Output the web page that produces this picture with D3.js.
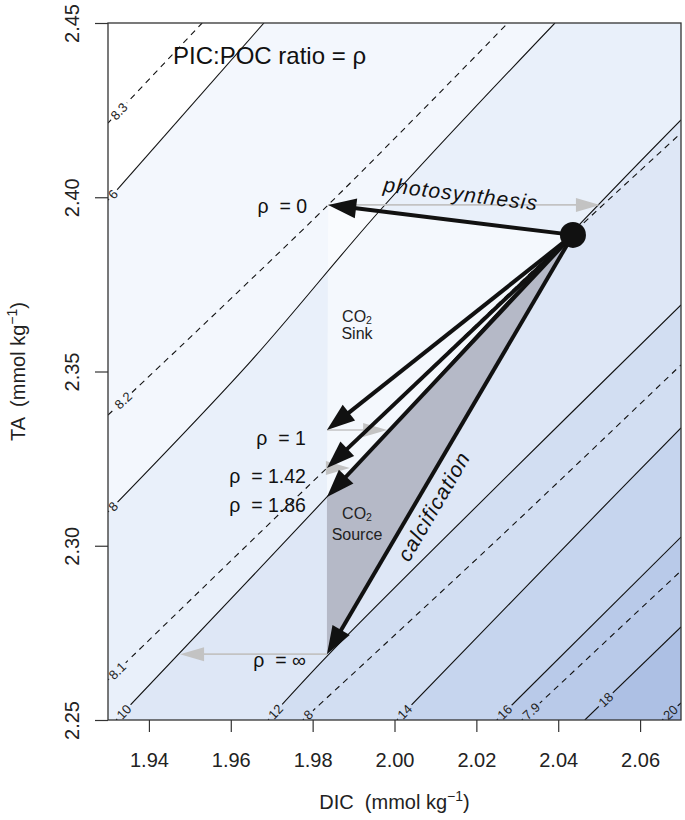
<!DOCTYPE html>
<html>
<head>
<meta charset="utf-8">
<script src="https://cdn.jsdelivr.net/npm/d3@7"></script>
<style>
  body { margin: 0; background: #fff; }
  text { font-family: "Liberation Sans", Arial, Helvetica, sans-serif; }
</style>
</head>
<body>
<div id="chart"></div>
<script>
// ---- data ----
let xTicks = [1.94, 1.96, 1.98, 2.00, 2.02, 2.04, 2.06];
let yTicks = [2.25, 2.30, 2.35, 2.40, 2.45];

// solid contours, [DIC, TA] points
let solidLevels = ["6", "8", "10", "12", "14", "16", "18", "20"];
let solidLines = [
  [[1.9300, 2.3992], [1.9681, 2.4500]],
  [[1.9300, 2.3097], [1.9647, 2.3527], [1.9972, 2.3972], [2.0392, 2.4500]],
  [[1.9320, 2.2500], [1.9835, 2.3140], [2.0458, 2.3929], [2.0700, 2.4222]],
  [[1.9691, 2.2500], [1.9840, 2.2689], [2.0216, 2.3131], [2.0700, 2.3691]],
  [[2.0006, 2.2500], [2.0527, 2.3131], [2.0700, 2.3338]],
  [[2.0250, 2.2500], [2.0700, 2.3025]],
  [[2.0465, 2.2500], [2.0700, 2.2767]],
  [[2.0654, 2.2500], [2.0700, 2.2549]]
];

// dashed contours (pH)
let dashedLevels = ["8.3", "8.2", "8.1", "8", "7.9"];
let dashedLines = [
  [[1.9300, 2.4213], [1.9530, 2.4500]],
  [[1.9300, 2.3375], [1.9838, 2.3978], [2.0277, 2.4500]],
  [[1.9300, 2.2615], [1.9835, 2.3223], [2.0431, 2.3892], [2.0700, 2.4184]],
  [[1.9776, 2.2500], [2.0258, 2.3025], [2.0700, 2.3519]],
  [[2.0311, 2.2500], [2.0700, 2.2928]]
];

// initial point and PIC:POC arrows
let startDIC = 2.0436, startTA = 2.3892;
let rhoNames = ["0", "1", "1.42", "1.86", "\u221e"];
let rhoDIC = [1.9838, 1.9835, 1.9835, 1.9835, 1.9835];
let rhoTA = [2.3978, 2.3332, 2.3223, 2.3140, 2.2689];

// grey arrows back to the initial contour
let greyFrom = [0, 1, 2, 4];
let greyToDIC = [2.0502, 1.9982, 1.9891, 1.9476];

// ---- layout ----
let W = 685, H = 820;
let mLeft = 108, mRight = 681, mTop = 23, mBottom = 720;

let x = d3.scaleLinear().domain([1.93, 2.07]).range([mLeft, mRight]);
let y = d3.scaleLinear().domain([2.25, 2.45]).range([mBottom, mTop]);

let bandColors = ["#ffffff", "#f3f7fd", "#e9f0fa", "#dee7f6", "#d2def2", "#c6d5ee", "#b9cae9", "#adc0e4", "#a0b5df"];

let svg = d3.select("#chart").append("svg")
  .attr("width", W).attr("height", H)
  .style("background", "#fff");

let defs = svg.append("defs");
defs.append("clipPath").attr("id", "plotclip")
  .append("rect").attr("x", mLeft).attr("y", mTop)
  .attr("width", mRight - mLeft).attr("height", mBottom - mTop);

let mask = defs.append("mask").attr("id", "lblmask")
  .attr("maskUnits", "userSpaceOnUse")
  .attr("x", 0).attr("y", 0).attr("width", W).attr("height", H);
mask.append("rect").attr("width", W).attr("height", H).attr("fill", "white");

let plot = svg.append("g").attr("clip-path", "url(#plotclip)");

let line = d3.line().x(d => x(d[0])).y(d => y(d[1])).curve(d3.curveCatmullRom.alpha(0.5));

// background bands
plot.append("rect").attr("x", mLeft).attr("y", mTop)
  .attr("width", mRight - mLeft).attr("height", mBottom - mTop)
  .attr("fill", bandColors[0]);

solidLines.forEach((pts, i) => {
  let first = pts[0], last = pts[pts.length - 1];
  let d = line(pts) +
    "L" + x(2.2) + "," + y(last[1]) +
    "L" + x(2.2) + "," + y(2.1) +
    "L" + x(first[0]) + "," + y(2.1) + "Z";
  plot.append("path").attr("d", d).attr("fill", bandColors[i + 1]);
});

// CO2 sink (light) and source (grey) areas
let px = (i) => [x(rhoDIC[i]), y(rhoTA[i])];
let p0 = [x(startDIC), y(startTA)];
plot.append("path")
  .attr("d", "M" + px(0) + "L" + p0 + "L" + px(3) + "Z")
  .attr("fill", "#ffffff").attr("fill-opacity", 0.5);
plot.append("path")
  .attr("d", "M" + px(3) + "L" + p0 + "L" + px(4) + "Z")
  .attr("fill", "#b5b9c7");

// contour lines
let allLines = solidLines.map((pts, i) => ({level: solidLevels[i], pts: pts, dash: false}))
  .concat(dashedLines.map((pts, i) => ({level: dashedLevels[i], pts: pts, dash: true})));

let lineG = plot.append("g").attr("mask", "url(#lblmask)");
lineG.selectAll("path.cl").data(allLines).enter().append("path")
  .attr("class", "cl")
  .attr("d", d => line(d.pts))
  .attr("fill", "none")
  .attr("stroke", "#111")
  .attr("stroke-width", 1.1)
  .attr("stroke-dasharray", d => d.dash ? "6,5" : null);

// contour labels at the start of each line
let extraShift = {"8.2": 8, "18": 18, "8.3": 3};
let lblG = svg.append("g");
allLines.forEach(d => {
  let a = [x(d.pts[0][0]), y(d.pts[0][1])];
  let b = [x(d.pts[1][0]), y(d.pts[1][1])];
  let len = Math.hypot(b[0] - a[0], b[1] - a[1]);
  let ux = (b[0] - a[0]) / len, uy = (b[1] - a[1]) / len;
  let ang = Math.atan2(uy, ux) * 180 / Math.PI;
  let t = lblG.append("text")
    .attr("font-size", 13)
    .attr("fill", "#222")
    .attr("text-anchor", "middle")
    .attr("dy", "0.35em")
    .text(d.level);
  let w = t.node().getComputedTextLength();
  let dist = 4 + w / 2 + (extraShift[d.level] || 0);
  let cx = a[0] + ux * dist, cy = a[1] + uy * dist;
  t.attr("transform", "translate(" + cx + "," + cy + ") rotate(" + ang + ")");
  mask.append("rect")
    .attr("x", -w / 2 - 2.5).attr("y", -7).attr("width", w + 5).attr("height", 14)
    .attr("fill", "black")
    .attr("transform", "translate(" + cx + "," + cy + ") rotate(" + ang + ")");
});

// arrows
function arrow(g, a, b, color, sw, headL, headW) {
  let dx = b[0] - a[0], dy = b[1] - a[1];
  let len = Math.hypot(dx, dy);
  let ux = dx / len, uy = dy / len;
  let bx = b[0] - ux * headL, by = b[1] - uy * headL;
  g.append("line")
    .attr("x1", a[0]).attr("y1", a[1])
    .attr("x2", bx + ux * 2).attr("y2", by + uy * 2)
    .attr("stroke", color).attr("stroke-width", sw);
  g.append("path")
    .attr("d", "M" + b[0] + "," + b[1] +
      "L" + (bx - uy * headW) + "," + (by + ux * headW) +
      "L" + (bx + uy * headW) + "," + (by - ux * headW) + "Z")
    .attr("fill", color);
}

let arrowG = svg.append("g");
greyFrom.forEach((k, i) => {
  arrow(arrowG, px(k), [x(greyToDIC[i]), y(rhoTA[k])], "#c3c3c3", 1.6, 24, 7);
});
rhoNames.forEach((r, i) => {
  arrow(arrowG, p0, px(i), "#111", 4, 28, 10);
});
arrowG.append("circle").attr("cx", p0[0]).attr("cy", p0[1]).attr("r", 13).attr("fill", "#111");

// rho labels
let rhoDy = [8, 15, 15, 15, 13];
rhoNames.forEach((r, i) => {
  svg.append("text")
    .attr("x", px(i)[0] - 21)
    .attr("y", px(i)[1] + rhoDy[i])
    .attr("text-anchor", "end")
    .attr("font-size", 19.5)
    .attr("fill", "#111")
    .style("white-space", "pre")
    .text("\u03c1  = " + r);
});

// annotations
svg.append("text").attr("x", 173).attr("y", 64)
  .attr("font-size", 24).attr("fill", "#111")
  .text("PIC:POC ratio = \u03c1");

svg.append("text")
  .attr("transform", "translate(460,201) rotate(7)")
  .attr("text-anchor", "middle")
  .attr("font-size", 21).attr("font-style", "italic")
  .attr("letter-spacing", 1.1).attr("fill", "#111")
  .text("photosynthesis");

svg.append("text")
  .attr("transform", "translate(440,510) rotate(-59.6)")
  .attr("text-anchor", "middle")
  .attr("font-size", 21).attr("font-style", "italic")
  .attr("letter-spacing", 1.1).attr("fill", "#111")
  .text("calcification");

function co2(cx, cy) {
  let t = svg.append("text").attr("x", cx).attr("y", cy)
    .attr("text-anchor", "middle").attr("font-size", 16).attr("fill", "#222");
  t.append("tspan").text("CO");
  t.append("tspan").attr("font-size", 10.5).attr("dy", 2).text("2");
  return t;
}
co2(357, 322);
svg.append("text").attr("x", 357).attr("y", 339).attr("text-anchor", "middle")
  .attr("font-size", 16).attr("fill", "#222").text("Sink");
co2(357, 519);
svg.append("text").attr("x", 357).attr("y", 540).attr("text-anchor", "middle")
  .attr("font-size", 16).attr("fill", "#222").text("Source");

// axes
let xAxis = svg.append("g").attr("transform", "translate(0," + mBottom + ")")
  .call(d3.axisBottom(x).tickValues(xTicks).tickSize(12).tickSizeOuter(0).tickFormat(d3.format(".2f")));
xAxis.select(".domain").remove();
xAxis.selectAll("line").attr("stroke", "#333").attr("stroke-width", 1.2);
xAxis.selectAll("text").attr("y", 47).attr("dy", 0)
  .attr("font-size", 20).attr("fill", "#222")
  .style("font-family", "'Liberation Sans', Arial, sans-serif");

let yAxis = svg.append("g").attr("transform", "translate(" + mLeft + ",0)")
  .call(d3.axisLeft(y).tickValues(yTicks).tickSize(13).tickSizeOuter(0).tickFormat(d3.format(".2f")));
yAxis.select(".domain").remove();
yAxis.selectAll("line").attr("stroke", "#333").attr("stroke-width", 1.2);
yAxis.selectAll("text")
  .attr("transform", "rotate(-90)")
  .attr("x", 0).attr("y", -29).attr("dy", 0)
  .attr("text-anchor", "middle")
  .attr("font-size", 20).attr("fill", "#222")
  .style("font-family", "'Liberation Sans', Arial, sans-serif");

// frame
svg.append("rect").attr("x", mLeft).attr("y", mTop)
  .attr("width", mRight - mLeft).attr("height", mBottom - mTop)
  .attr("fill", "none").attr("stroke", "#333").attr("stroke-width", 1.3);

// axis titles
let xt = svg.append("text").attr("x", (mLeft + mRight) / 2).attr("y", 809)
  .attr("text-anchor", "middle").attr("font-size", 20).attr("fill", "#222")
  .style("white-space", "pre");
xt.append("tspan").text("DIC  (mmol kg");
xt.append("tspan").attr("font-size", 14).attr("dy", -8).text("\u22121");
xt.append("tspan").attr("dy", 8).text(")");

let yt = svg.append("text").attr("transform", "translate(25," + ((mTop + mBottom) / 2) + ") rotate(-90)")
  .attr("text-anchor", "middle").attr("font-size", 20).attr("fill", "#222")
  .style("white-space", "pre");
yt.append("tspan").text("TA  (mmol kg");
yt.append("tspan").attr("font-size", 14).attr("dy", -8).text("\u22121");
yt.append("tspan").attr("dy", 8).text(")");
</script>
</body>
</html>
